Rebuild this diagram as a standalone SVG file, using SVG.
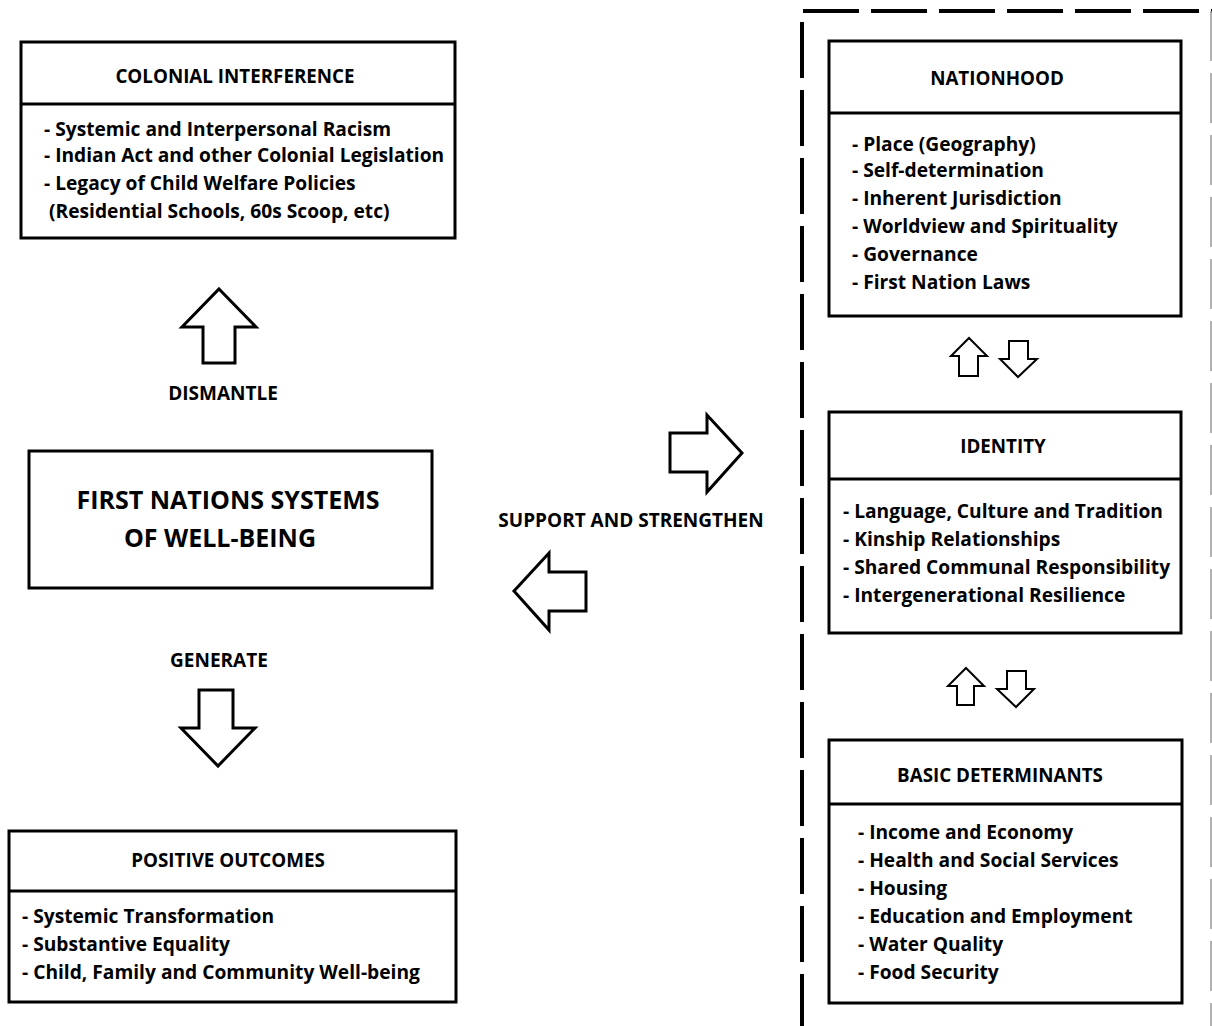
<svg xmlns="http://www.w3.org/2000/svg" width="1212" height="1026" viewBox="0 0 1212 1026">
<style>
.box{fill:#fff;stroke:#000;stroke-width:3}
.div{stroke:#000;stroke-width:3}
.arr{fill:#fff;stroke:#000;stroke-width:3;stroke-linejoin:miter}
.sarr{fill:#fff;stroke:#000;stroke-width:2;stroke-linejoin:miter}
text{font-family:"Open Sans","Noto Sans","DejaVu Sans",sans-serif;font-weight:700;fill:#000}
.t{font-size:18.8px;text-anchor:middle}
.b{font-size:19.2px}
.big{font-size:25px;text-anchor:middle}
.lbl{font-size:19px;text-anchor:middle}
</style>
<rect width="1212" height="1026" fill="#fff"/>
<g id="frame">
<path d="M802,1030 V11 H1212" fill="none" stroke="#000" stroke-width="4" stroke-dasharray="56 12"/>
<line x1="1211" y1="11" x2="1211" y2="1030" stroke="#999" stroke-width="1.5" stroke-dasharray="50 12"/>
</g>
<g id="colonial">
<rect class="box" x="21" y="42" width="434" height="196"/>
<line class="div" x1="21" y1="104" x2="455" y2="104"/>
<text class="t" x="235" y="83">COLONIAL INTERFERENCE</text>
<text class="b" x="44" y="136">- Systemic and Interpersonal Racism</text>
<text class="b" x="44" y="162">- Indian Act and other Colonial Legislation</text>
<text class="b" x="44" y="190">- Legacy of Child Welfare Policies</text>
<text class="b" x="49" y="218">(Residential Schools, 60s Scoop, etc)</text>
</g>
<g id="main">
<rect class="box" x="29" y="451" width="403" height="137"/>
<text class="big" x="228" y="509">FIRST NATIONS SYSTEMS</text>
<text class="big" x="220" y="547">OF WELL-BEING</text>
</g>
<g id="outcomes">
<rect class="box" x="9" y="831" width="447" height="171"/>
<line class="div" x1="9" y1="891" x2="456" y2="891"/>
<text class="t" x="228" y="867">POSITIVE OUTCOMES</text>
<text class="b" x="22" y="923">- Systemic Transformation</text>
<text class="b" x="22" y="951">- Substantive Equality</text>
<text class="b" x="22" y="979">- Child, Family and Community Well-being</text>
</g>
<g id="nationhood">
<rect class="box" x="829" y="41" width="352" height="275"/>
<line class="div" x1="829" y1="113" x2="1181" y2="113"/>
<text class="t" x="997" y="85">NATIONHOOD</text>
<text class="b" x="852" y="151">- Place (Geography)</text>
<text class="b" x="852" y="177">- Self-determination</text>
<text class="b" x="852" y="205">- Inherent Jurisdiction</text>
<text class="b" x="852" y="233">- Worldview and Spirituality</text>
<text class="b" x="852" y="261">- Governance</text>
<text class="b" x="852" y="289">- First Nation Laws</text>
</g>
<g id="identity">
<rect class="box" x="829" y="412" width="352" height="221"/>
<line class="div" x1="829" y1="479" x2="1181" y2="479"/>
<text class="t" x="1003" y="453">IDENTITY</text>
<text class="b" x="843" y="518">- Language, Culture and Tradition</text>
<text class="b" x="843" y="546">- Kinship Relationships</text>
<text class="b" x="843" y="574">- Shared Communal Responsibility</text>
<text class="b" x="843" y="602">- Intergenerational Resilience</text>
</g>
<g id="determinants">
<rect class="box" x="829" y="740" width="353" height="263"/>
<line class="div" x1="829" y1="804" x2="1182" y2="804"/>
<text class="t" x="1000" y="782">BASIC DETERMINANTS</text>
<text class="b" x="858" y="839">- Income and Economy</text>
<text class="b" x="858" y="867">- Health and Social Services</text>
<text class="b" x="858" y="895">- Housing</text>
<text class="b" x="858" y="923">- Education and Employment</text>
<text class="b" x="858" y="951">- Water Quality</text>
<text class="b" x="858" y="979">- Food Security</text>
</g>
<g id="connectors">
<polygon class="arr" points="219,289 256,327 235,327 235,363 203,363 203,327 182,327"/>
<text class="lbl" x="223" y="400">DISMANTLE</text>
<text class="lbl" x="219" y="667">GENERATE</text>
<polygon class="arr" points="199,690 233,690 233,728 255,728 218,766 181,728 199,728"/>
<polygon class="arr" points="670,433 707,433 707,415 742,453 707,492 707,472 670,472"/>
<text class="lbl" x="631" y="527">SUPPORT AND STRENGTHEN</text>
<polygon class="arr" points="514,591 549,553 549,572 586,572 586,611 549,611 549,630"/>
<polygon class="sarr" points="969,338 987,356 978,356 978,376 959,376 959,356 951,356"/>
<polygon class="sarr" points="1009,341 1028,341 1028,359 1037,359 1018,377 1000,359 1009,359"/>
<polygon class="sarr" points="966,668 984,686 974,686 974,705 957,705 957,686 948,686"/>
<polygon class="sarr" points="1007,671 1026,671 1026,689 1034,689 1016,707 997,689 1007,689"/>
</g>
</svg>
